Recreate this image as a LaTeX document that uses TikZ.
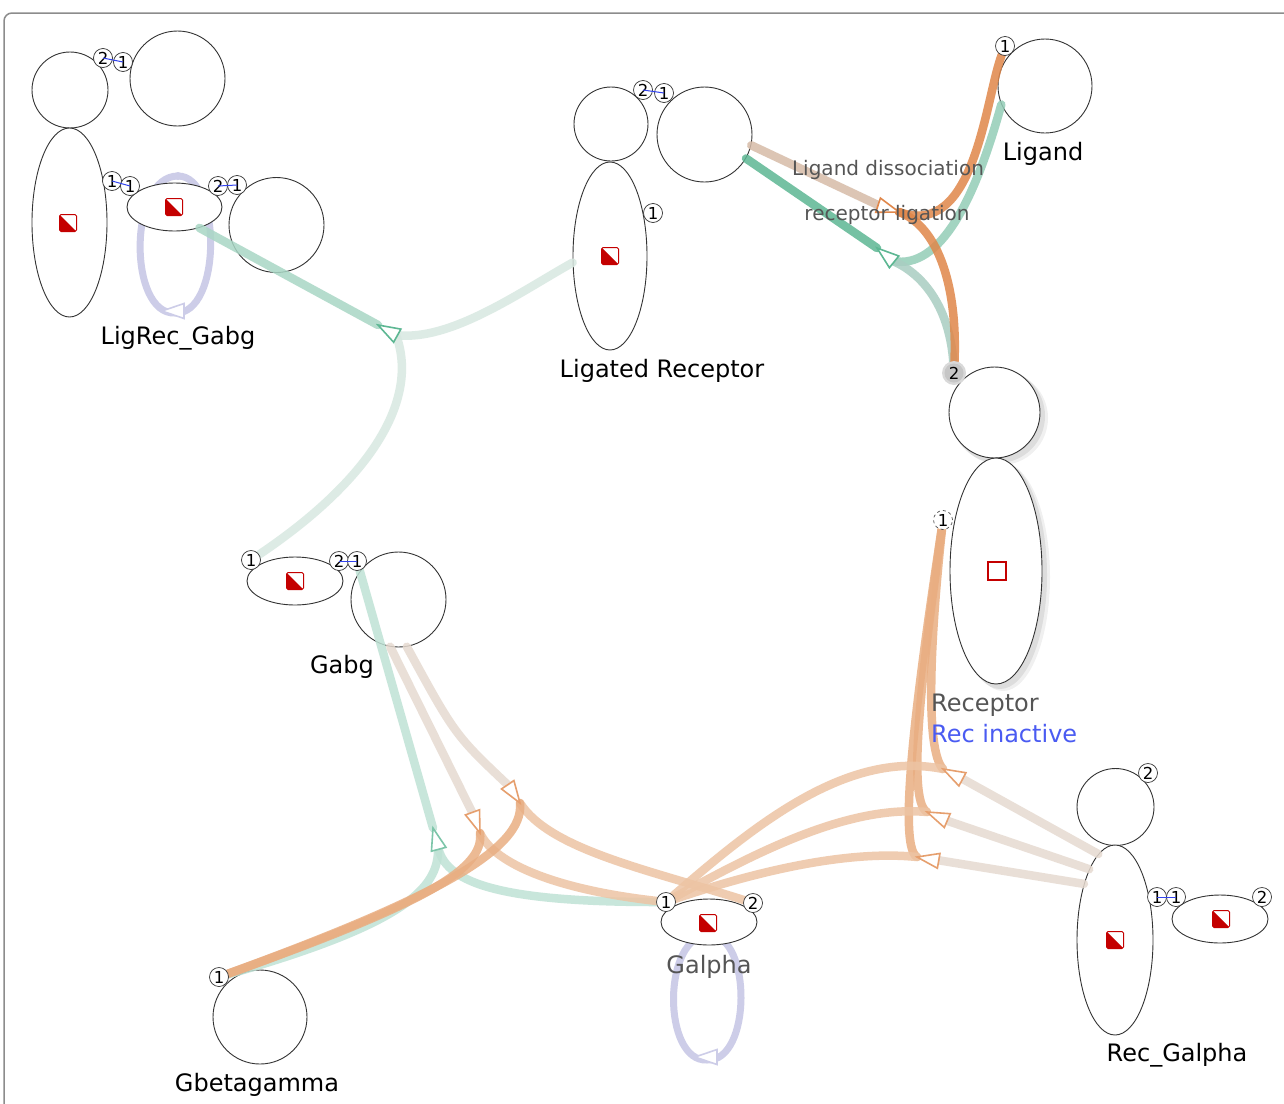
\documentclass[tikz,border=0pt]{standalone}
\usepackage{fontspec}
\setmainfont{DejaVu Sans}
\usetikzlibrary{shapes.geometric,calc}
\pgfdeclarelayer{loops}\pgfdeclarelayer{big}\pgfdeclarelayer{edges}
\pgfsetlayers{loops,big,edges,main}
\definecolor{grS}{HTML}{5DB793}
\definecolor{grM}{HTML}{94CDB7}
\definecolor{grL}{HTML}{BFE2D5}
\definecolor{grXL}{HTML}{D8E8E1}
\definecolor{grG}{HTML}{A9CDC1}
\definecolor{orS}{HTML}{E0874A}
\definecolor{orM}{HTML}{E9AE82}
\definecolor{orL}{HTML}{EDC4A4}
\definecolor{tanM}{HTML}{D6BBA8}
\definecolor{tanL}{HTML}{E6DAD0}
\definecolor{lav}{HTML}{CDCDE8}
\definecolor{redsq}{HTML}{C40000}
\definecolor{txtgray}{HTML}{555555}
\definecolor{recblue}{HTML}{4A5BF2}
\definecolor{bondblue}{HTML}{3344EE}
\newcommand\arrtri[3]{\draw[#3, line width=1.6pt, fill=white, shift={#1}, rotate=#2] (0,0) -- (-22,7.5) -- (-22,-7.5) -- cycle;}
\newcommand\rsq[1]{\begin{scope}[shift={#1}]\draw[redsq, line width=1pt, fill=white, rounded corners=1.5] (-8.5,-8.5) rectangle (8.5,8.5);\fill[redsq] (-8,-8) -- (8,8) -- (-8,8) -- cycle;\end{scope}}
\tikzset{
  bignode/.style={draw=black!80, line width=0.9pt, fill=white, inner sep=0pt},
  circ/.style={bignode, circle, minimum size=#1},
  ell/.style={bignode, ellipse},
  site/.style={circle, draw=black!80, line width=0.7pt, fill=white, inner sep=0pt, minimum size=19pt, font=\fontsize{16.5}{16.5}\selectfont},
  bond/.style={draw=bondblue, line width=1pt},
  edge/.style={line width=8.5pt, line cap=round, opacity=0.85},
  lbl/.style={font=\fontsize{24}{28}\selectfont, inner sep=0pt},
  rlbl/.style={font=\fontsize{20}{24}\selectfont, inner sep=0pt, text=txtgray},
}
\begin{document}
\begin{tikzpicture}[x=1pt,y=-1pt]
\useasboundingbox (0,0) rectangle (1284,1103);

% ---------- background, loops and shadows ----------
\begin{pgfonlayer}{loops}
\fill[white] (0,0) rectangle (1284,1103);
\draw[gray!90, line width=1.5pt, rounded corners=8] (4,1200) |- (1400,13);
\fill[black, opacity=0.08] (998,416) circle (47);
\fill[black, opacity=0.08] (1000,575) ellipse (47 and 114);
\fill[black, opacity=0.06] (1001,418) circle (47);
\fill[black, opacity=0.06] (1003,577) ellipse (47 and 114);
\draw[lav, line width=7pt] (178,176) .. controls (128,176) and (128,315) .. (175,313) .. controls (222,315) and (222,176) .. (178,176);
\fill[lav] (178,176) circle (4);
\draw[lav, line width=7pt] (709,935) .. controls (662,935) and (662,1062) .. (707,1060) .. controls (752,1062) and (752,935) .. (709,935);
\end{pgfonlayer}

% ---------- big nodes ----------
\begin{pgfonlayer}{big}
\node[circ=76] (A) at (70,90) {};
\node[circ=95] (B) at (177.5,78.5) {};
\node[ell, minimum width=75, minimum height=189] (C) at (69.5,222.5) {};
\node[ell, minimum width=95, minimum height=48] (D) at (174.5,207) {};
\node[circ=95] (E) at (276.5,225) {};
\node[circ=74] (F) at (611,124) {};
\node[circ=95] (G) at (704.5,134.5) {};
\node[ell, minimum width=74, minimum height=188] (H) at (610,256) {};
\node[circ=94] (I) at (1045,86) {};
\node[circ=91] (J) at (994.5,412.5) {};
\node[ell, minimum width=92, minimum height=226] (K) at (996,571) {};
\node[ell, minimum width=96, minimum height=48] (L) at (295,581) {};
\node[circ=95] (M) at (398.5,599.5) {};
\node[ell, minimum width=96, minimum height=46] (N) at (709,922) {};
\node[circ=77] (O) at (1115.5,807) {};
\node[ell, minimum width=76, minimum height=190] (P) at (1115,940) {};
\node[ell, minimum width=96, minimum height=48] (Q) at (1220,919) {};
\node[circ=94] (R) at (260,1017) {};
\end{pgfonlayer}
\arrtri{(162,311)}{180}{lav}
\arrtri{(695,1057)}{180}{lav}

% ---------- sites ----------
\node[site] (sA2) at (103,58) {2};
\node[site] (sB1) at (123,62) {1};
\node[site] (sC1) at (112,181) {1};
\node[site] (sD1) at (130,186) {1};
\node[site] (sD2) at (218,186) {2};
\node[site] (sE1) at (237,185) {1};
\node[site] (sF2) at (643,90) {2};
\node[site] (sG1) at (664,93) {1};
\node[site] (sH1) at (653,213) {1};
\node[site] (sI1) at (1005,46) {1};
\fill[gray!30] (954,373) circle (12);
\node[site, draw=none, fill=gray!45] (sJ2) at (954,373) {2};
\node[site, dashed, draw=black!70] (sK1) at (943,520) {1};
\node[site] (sL1) at (251,560) {1};
\node[site] (sL2) at (339,561) {2};
\node[site] (sM1) at (357,561) {1};
\node[site] (sN1) at (666,902) {1};
\node[site] (sN2) at (753,903) {2};
\node[site] (sO2) at (1148,773) {2};
\node[site] (sP1) at (1157,897) {1};
\node[site] (sQ1) at (1176,897) {1};
\node[site] (sQ2) at (1262,897) {2};
\node[site] (sR1) at (219,977) {1};
\draw[bond] (sA2.center) -- (sB1.center);
\draw[bond] (sC1.center) -- (sD1.center);
\draw[bond] (sD2.center) -- (sE1.center);
\draw[bond] (sF2.center) -- (sG1.center);
\draw[bond] (sL2.center) -- (sM1.center);
\draw[bond] (sP1.center) -- (sQ1.center);

% ---------- hubs ----------
\coordinate (t1) at (378,325); \coordinate (b1) at (396,335);
\coordinate (t2) at (899,212); \coordinate (b2) at (880,206);
\coordinate (t3) at (877,248); \coordinate (b3) at (893,261);
\coordinate (t4) at (433,828); \coordinate (b4) at (438,847);
\coordinate (t5) at (480,833); \coordinate (b5) at (473,814);
\coordinate (t6) at (520,803); \coordinate (b6) at (509,786);
\coordinate (t7) at (943,769); \coordinate (b7) at (961,778);
\coordinate (t8) at (927,812); \coordinate (b8) at (945,820);
\coordinate (t9) at (917,857); \coordinate (b9) at (937,860);

% ---------- edges ----------
\begin{pgfonlayer}{edges}
\draw[edge, grM!80] (D.-40) -- (t1);
\draw[edge, grXL] (b1) .. controls (450,342) and (520,292) .. (H.190);
\draw[edge, grXL] (b1) .. controls (420,400) and (370,480) .. (sL1);
\draw[edge, grS] (G.-30) -- (t3);
\draw[edge, grM] (b3) .. controls (940,270) and (975,200) .. (I.203);
\draw[edge, grG] (b3) .. controls (925,275) and (950,310) .. (sJ2);
\draw[edge, tanM] (G.-13) -- (b2);
\draw[edge, orS] (t2) .. controls (975,240) and (985,100) .. (sI1);
\draw[edge, orS] (t2) .. controls (935,225) and (958,280) .. (sJ2);
\draw[edge, grL] (sM1) -- (t4);
\draw[edge, grL] (b4) .. controls (445,880) and (490,902) .. (sN1);
\draw[edge, grL] (b4) .. controls (440,890) and (400,925) .. (sR1);
\draw[edge, tanL] (M.-100) -- (b5);
\draw[edge, orL] (t5) .. controls (495,865) and (560,890) .. (sN1);
\draw[edge, orM] (t5) .. controls (485,870) and (420,905) .. (sR1);
\draw[edge, tanL] (M.-80) .. controls (455,735) .. (b6);
\draw[edge, orL] (t6) .. controls (550,850) and (650,870) .. (sN2);
\draw[edge, orM] (t6) .. controls (525,850) and (430,900) .. (sR1);
\draw[edge, orM] (sK1) .. controls (930,640) and (925,750) .. (t7);
\draw[edge, orM] (sK1) .. controls (925,650) and (905,800) .. (t8);
\draw[edge, orM] (sK1) .. controls (922,660) and (895,845) .. (t9);
\draw[edge, orL] (sN1) .. controls (760,820) and (850,750) .. (t7);
\draw[edge, orL] (sN1) .. controls (760,850) and (850,805) .. (t8);
\draw[edge, orL] (sN1) .. controls (760,870) and (850,850) .. (t9);
\draw[edge, tanL] (b7) -- (P.101);
\draw[edge, tanL] (b8) -- (P.110);
\draw[edge, tanL] (b9) -- (P.119);
\end{pgfonlayer}

% ---------- arrowheads ----------
\arrtri{(t1)}{151}{grS}
\arrtri{(t2)}{-18}{orS}
\arrtri{(t3)}{141}{grS}
\arrtri{(t4)}{105}{grS!80}
\arrtri{(t5)}{-70}{orS!80}
\arrtri{(t6)}{-56}{orS!80}
\arrtri{(t7)}{152}{orS!80}
\arrtri{(t8)}{157}{orS!80}
\arrtri{(t9)}{170}{orS!80}

% ---------- red state marks ----------
\rsq{(68,223)}
\rsq{(174,207)}
\rsq{(610,256)}
\rsq{(295,581)}
\rsq{(708,923)}
\rsq{(1115,940)}
\rsq{(1221,919)}
\draw[redsq, line width=1.5pt] (988,562) rectangle (1006,580);

% ---------- labels ----------
\node[lbl] (lLigRec) at (178,338) {LigRec\_Gabg};
\node[lbl] (lLigated) at (662,371) {Ligated Receptor};
\node[lbl] (lLigand) at (1043,154) {Ligand};
\node[rlbl] (lDiss) at (888,170) {Ligand dissociation};
\node[rlbl] (lLig) at (887,215) {receptor ligation};
\node[lbl, anchor=west, text=txtgray] (lRec) at (931,705) {Receptor};
\node[lbl, anchor=west, text=recblue] (lRecIn) at (931,734) {Rec inactive};
\node[lbl] (lGabg) at (342,667) {Gabg};
\node[lbl, text=txtgray] (lGalpha) at (709,967) {Galpha};
\node[lbl] (lRecG) at (1177,1055) {Rec\_Galpha};
\node[lbl] (lGbg) at (257,1085) {Gbetagamma};
\end{tikzpicture}
\end{document}
